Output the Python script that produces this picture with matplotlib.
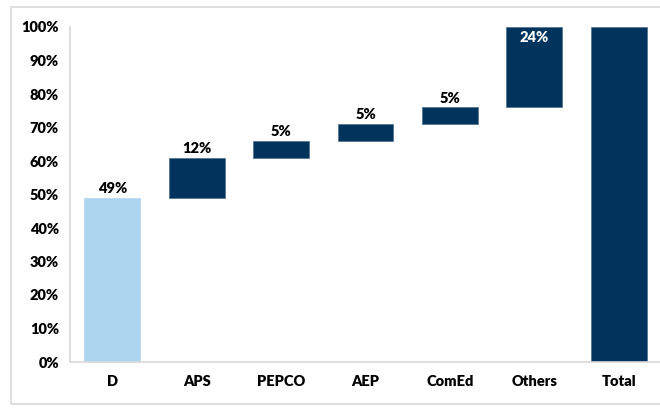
import matplotlib.pyplot as plt
import matplotlib.patches as patches
from matplotlib.ticker import PercentFormatter
import numpy as np

plt.rcParams['font.family'] = ['Lato', 'DejaVu Sans']

categories = ['D', 'APS', 'PEPCO', 'AEP', 'ComEd', 'Others', 'Total']
values = [49, 12, 5, 5, 5, 24, 100]
labels = ['49%', '12%', '5%', '5%', '5%', '24%', '']

dark = '#00345C'
light = '#AED5F0'

# waterfall bottoms: first and total start at 0, the rest stack up
bottoms = [0]
for v in values[:-2]:
    bottoms.append(bottoms[-1] + v)
bottoms.append(0)
colors = [light] + [dark] * 6

fig = plt.figure(figsize=(6.6, 4.13), dpi=100)
ax = fig.add_axes([70 / 660, 1 - 362 / 413, 591 / 660, 335 / 413])

x = np.arange(len(categories))
ax.bar(x, values, bottom=bottoms, width=0.66, color=colors,
       edgecolor=['#AED5F0'] + ['#4E6F8E'] * 6, linewidth=0.5)

for i in range(len(categories)):
    if not labels[i]:
        continue
    top = bottoms[i] + values[i]
    if top >= 100:
        ax.text(x[i], top - 1.2, labels[i], ha='center', va='top',
                color='white', fontsize=10.5, fontweight='heavy')
    else:
        ax.text(x[i], top + 0.8, labels[i], ha='center', va='bottom',
                color='black', fontsize=10.5, fontweight='heavy')

ax.set_xlim(-0.5, len(categories) - 0.5)
ax.set_ylim(0, 100)
ax.set_yticks(np.arange(0, 101, 10))
ax.yaxis.set_major_formatter(PercentFormatter(decimals=0))
ax.set_xticks(x)
ax.set_xticklabels(categories)
ax.tick_params(axis='y', length=0, pad=8, labelsize=10.5)
ax.tick_params(axis='x', length=0, pad=9, labelsize=10.5)
for lab in ax.get_xticklabels() + ax.get_yticklabels():
    lab.set_fontweight('heavy')

for s in ['top', 'right']:
    ax.spines[s].set_visible(False)
for s in ['left', 'bottom']:
    ax.spines[s].set_color('#D9D9D9')
    ax.spines[s].set_linewidth(1.2)

# outer chart border
border = patches.Rectangle((11 / 660, 1 - 404 / 413), 660 / 660, 397 / 413,
                           transform=fig.transFigure, fill=False,
                           edgecolor='#D9D9D9', linewidth=1.2, clip_on=False)
fig.patches.append(border)

plt.savefig('out.png', dpi=100)
